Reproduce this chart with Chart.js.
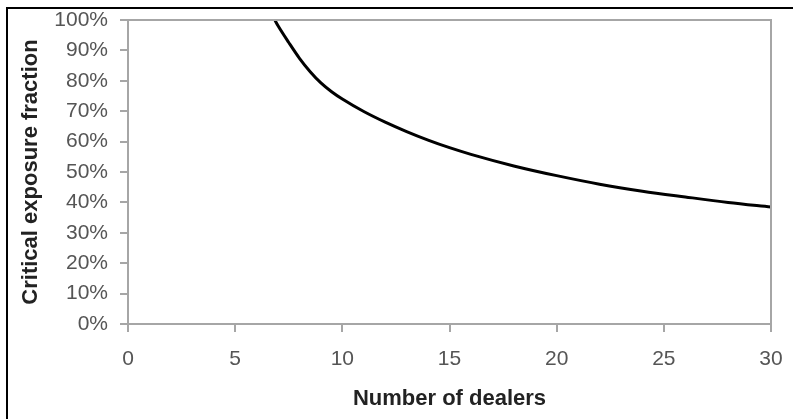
<!DOCTYPE html>
<html>
<head>
<meta charset="utf-8">
<script src="https://cdn.jsdelivr.net/npm/chart.js@4"></script>
<style>
  html, body { margin: 0; padding: 0; background: #fff; }
  #wrap { position: relative; width: 793px; height: 419px; }
  #frame { position: absolute; left: 6px; top: 7px; right: 0; bottom: 0;
           border-top: 2px solid #000; border-left: 2px solid #000; }
  canvas { position: absolute; left: 0; top: 0; }
</style>
</head>
<body>
<div id="wrap">
  <div id="frame"></div>
  <canvas id="chart" width="793" height="419"></canvas>
</div>
<script>
// values
const dealers = [6.85, 7, 7.5, 8, 8.5, 9, 9.5, 10, 11, 12, 13, 14, 15, 16, 18, 20, 22, 24, 26, 28, 30];
const exposure = [100, 98.1, 92.6, 87.4, 83.0, 79.3, 76.4, 74.0, 69.9, 66.4, 63.3, 60.5, 58, 55.8, 52, 48.8, 46, 43.7, 41.8, 40, 38.5];
const xTicks = [0, 5, 10, 15, 20, 25, 30];
const yTicks = [0, 10, 20, 30, 40, 50, 60, 70, 80, 90, 100];

const axisGray = "#a6a6a6";
const labelGray = "#555555";

const frameLines = {
  id: "frameLines",
  afterDraw(chart) {
    const { ctx, chartArea: a } = chart;
    ctx.save();
    ctx.strokeStyle = axisGray;
    ctx.lineWidth = 2;
    ctx.beginPath();
    ctx.moveTo(a.left, a.top);
    ctx.lineTo(a.right, a.top);
    ctx.lineTo(a.right, a.bottom);
    ctx.stroke();
    ctx.restore();
  }
};

new Chart(document.getElementById("chart"), {
  type: "line",
  data: {
    datasets: [{
      data: dealers.map((d, i) => ({ x: d, y: exposure[i] })),
      borderColor: "#000",
      borderWidth: 3,
      pointRadius: 0,
      cubicInterpolationMode: "monotone",
      fill: false
    }]
  },
  options: {
    responsive: false,
    animation: false,
    layout: { padding: { left: 0, top: 20, right: 22, bottom: 0 } },
    plugins: { legend: { display: false }, tooltip: { enabled: false } },
    scales: {
      x: {
        type: "linear",
        min: 0, max: 30,
        afterBuildTicks: s => { s.ticks = xTicks.map(v => ({ value: v })); },
        afterFit: s => { s.height = 95; s.paddingLeft = 0; s.paddingRight = 0; },
        grid: { display: true, drawOnChartArea: false, color: axisGray, lineWidth: 2, tickLength: 8 },
        border: { color: axisGray, width: 2 },
        ticks: { color: labelGray, padding: 15, maxRotation: 0,
                 font: { family: "Liberation Sans, Arial", size: 21 } },
        title: { display: true, text: "Number of dealers", color: "#222",
                 padding: { top: 0, bottom: 7 },
                 font: { family: "Liberation Sans, Arial", size: 22, weight: "bold" } }
      },
      y: {
        min: 0, max: 100,
        afterBuildTicks: s => { s.ticks = yTicks.map(v => ({ value: v })); },
        afterFit: s => { s.width = 128; s.paddingTop = 0; s.paddingBottom = 0; },
        grid: { display: true, drawOnChartArea: false, color: axisGray, lineWidth: 2, tickLength: 8 },
        border: { color: axisGray, width: 2 },
        ticks: { color: labelGray, padding: 12, callback: v => v + "%",
                 font: { family: "Liberation Sans, Arial", size: 21 } },
        title: { display: true, text: "Critical exposure fraction", color: "#222",
                 padding: { top: 18, bottom: 0 },
                 font: { family: "Liberation Sans, Arial", size: 22, weight: "bold" } }
      }
    }
  },
  plugins: [frameLines]
});
</script>
</body>
</html>
